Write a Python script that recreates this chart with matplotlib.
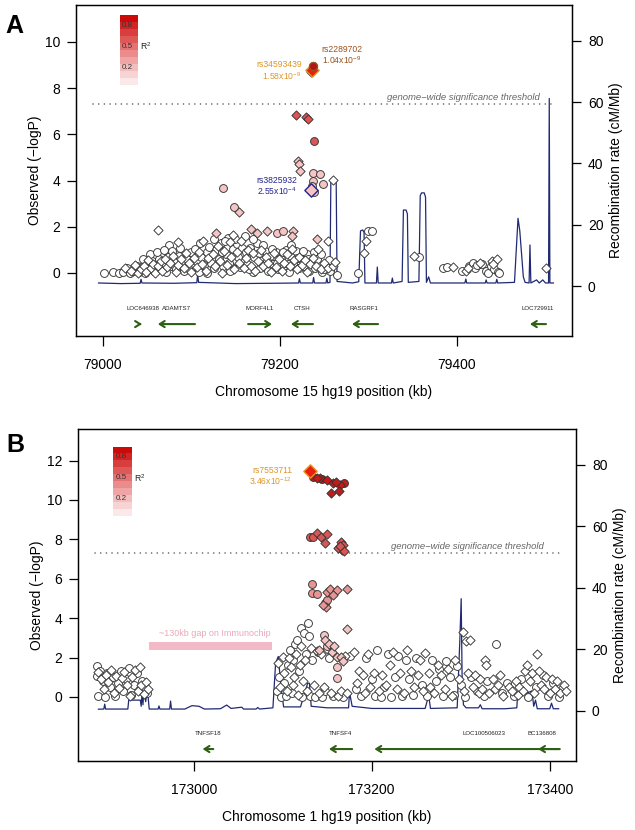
import matplotlib
matplotlib.use('Agg')
import matplotlib.pyplot as plt
import matplotlib.transforms as mtransforms
from matplotlib.patches import Rectangle

plt.rcParams['font.family'] = ['Liberation Sans', 'DejaVu Sans']
plt.rcParams['mathtext.default'] = 'regular'

# ---------------- panel A : chr15 ----------------
a_white_o = [(79001, 0.0), (79011, 0.05), (79018, 0.0), (79023, 0.05), (79027, 0.2), (79030, 0.0), (79034, 0.1),
             (79038, 0.3), (79041, 0.05), (79044, 0.25), (79047, 0.0), (79050, 0.4), (79052, 0.15), (79055, 0.5),
             (79058, 0.1), (79060, 0.35), (79063, 0.6), (79066, 0.2), (79068, 0.45), (79071, 0.05), (79073, 0.7),
             (79075, 1.2), (79077, 0.3), (79080, 0.55), (79083, 0.15), (79086, 0.75), (79089, 0.4), (79092, 0.1),
             (79095, 0.6), (79099, 0.92), (79102, 0.3), (79105, 0.5), (79108, 0.05), (79111, 0.7), (79114, 0.35),
             (79117, 0.9), (79120, 1.14), (79122, 0.45), (79125, 0.2), (79128, 1.0), (79131, 0.6), (79133, 1.3),
             (79136, 0.3), (79139, 0.8), (79141, 1.5), (79144, 0.1), (79147, 1.05), (79150, 0.5), (79152, 1.25),
             (79155, 0.25), (79158, 0.85), (79160, 1.6), (79163, 0.4), (79166, 1.1), (79169, 0.05), (79171, 0.7),
             (79174, 1.3), (79177, 0.2), (79180, 0.55), (79183, 0.95), (79186, 0.1), (79189, 0.75), (79192, 0.4),
             (79195, 0.9), (79198, 0.15), (79201, 0.6), (79204, 0.3), (79207, 1.0), (79210, 0.05), (79212, 0.75),
             (79215, 0.4), (79218, 0.95), (79221, 0.2), (79224, 0.6), (79227, 0.3), (79230, 0.8), (79233, 0.1),
             (79236, 0.5), (79240, 0.2), (79244, 0.35), (79248, 0.05), (79252, 0.25), (79257, 0.1), (79264, -0.1),
             (79045, 0.6), (79053, 0.8), (79061, 0.9), (79069, 1.0), (79078, 0.95), (79087, 1.1), (79096, 0.2),
             (79104, 1.05), (79110, 1.3), (79118, 0.0), (79126, 1.45), (79134, 0.9), (79138, 1.4), (79142, 0.45),
             (79149, 1.45), (79153, 0.7), (79157, 1.1), (79162, 0.9), (79165, 0.15), (79170, 1.45), (79176, 0.85),
             (79181, 1.2), (79185, 0.5), (79191, 1.05), (79197, 0.45), (79203, 0.9), (79209, 0.4), (79213, 1.2),
             (79219, 0.65), (79226, 0.95), (79232, 0.6), (79238, 0.9), (79242, 0.6), (79246, 0.8), (79250, 0.15),
             (79255, 0.55), (79288.5, 0.0), (79300, 1.82), (79304, 1.82), (79357, 0.71), (79384, 0.2), (79389, 0.25),
             (79406, 0.1), (79414, 0.3), (79418, 0.45), (79420, 0.2), (79423, 0.35), (79428, 0.4), (79433, 0.1),
             (79435, 0.0), (79438, 0.3), (79442, 0.15), (79446, 0.05), (79448, 0.0)]
a_white_d = [(79025, 0.2), (79032, 0.1), (79036, 0.35), (79040, 0.0), (79043, 0.15), (79046, 0.3), (79049, 0.05),
             (79051, 0.55), (79054, 0.2), (79057, 0.4), (79059, 0.0), (79062, 1.86), (79062, 0.3), (79065, 0.5),
             (79067, 0.1), (79070, 0.6), (79072, 0.25), (79076, 0.45), (79079, 0.75), (79082, 0.05), (79085, 1.36),
             (79085, 0.35), (79088, 0.6), (79091, 0.2), (79094, 0.85), (79097, 0.45), (79100, 0.05), (79103, 0.65),
             (79106, 0.25), (79109, 0.9), (79112, 0.4), (79113, 1.39), (79116, 0.1), (79119, 0.65), (79124, 0.8),
             (79127, 0.3), (79130, 1.15), (79132, 0.5), (79135, 0.0), (79137, 0.95), (79140, 0.35), (79143, 1.35),
             (79145, 0.7), (79147, 1.64), (79148, 0.15), (79151, 0.9), (79154, 0.45), (79156, 1.4), (79159, 0.2),
             (79162, 0.65), (79164, 1.0), (79167, 0.3), (79170, 0.85), (79172, 0.1), (79175, 0.5), (79178, 1.0),
             (79181, 0.3), (79184, 0.7), (79187, 0.45), (79190, 0.05), (79193, 0.85), (79196, 0.25), (79199, 0.6),
             (79202, 0.1), (79205, 0.45), (79208, 0.8), (79211, 0.3), (79214, 1.05), (79216, 0.55), (79219, 0.15),
             (79222, 0.7), (79225, 0.35), (79228, 0.55), (79231, 0.05), (79234, 0.4), (79237, 0.65), (79241, 0.3),
             (79243, 1.05), (79246, 0.15), (79250, 0.45), (79254, 0.2), (79254.6, 1.38), (79259.6, 4.03),
             (79260, 0.3), (79262, 0.49), (79295, 0.88), (79297, 1.4), (79352, 0.74), (79395, 0.25), (79410, 0.1),
             (79412, 0.2), (79426, 0.45), (79440, 0.5), (79445, 0.61), (79441, 0.4), (79501, 0.2)]
a_pink_o = [(79136, 3.67), (79148.4, 2.87), (79237, 4.32), (79245, 4.28), (79248.2, 3.85), (79237.5, 4.0),
            (79236, 3.77), (79239, 3.52), (79196.3, 1.74), (79203, 1.83)]
a_pink_d = [(79154, 2.65), (79127.7, 1.75), (79166.9, 1.89), (79173.7, 1.72), (79185, 1.83), (79215, 1.83),
            (79214, 1.62), (79242, 1.47), (79220.5, 4.85), (79222, 4.7), (79222.5, 4.4)]
a_mid_o = []
a_mid_d = []
a_red_o = [(79238.4, 5.73)]
a_red_d = [(79218.1, 6.84), (79229, 6.77), (79231.3, 6.67)]
a_dark_o = [(79237, 8.98)]
a_dark_d = [(79235, 8.68)]

a_recomb = [(78995, 1.0), (79020, 0.8), (79042, 0.9), (79043, 2.2), (79044, 1.0), (79080, 0.9), (79106, 1.1),
            (79107, 3.8), (79108, 1.2), (79150, 0.8), (79190, 0.9), (79221, 1.0), (79222, 2.4), (79223, 1.0),
            (79237, 1.0), (79238, 2.8), (79239, 1.0), (79252, 1.0), (79253, 2.5), (79254, 1.0), (79256.5, 1.2),
            (79257.5, 34.6), (79263.5, 34.6), (79264.5, 1.5), (79282, 1.0), (79289, 1.4), (79291, 18.0),
            (79293.5, 18.3), (79295, 17.5), (79296, 1.0), (79309, 1.0), (79310, 6.2), (79311, 1.0), (79326, 1.0),
            (79327, 2.6), (79328, 1.0), (79338, 1.5), (79339.5, 24.8), (79342.5, 24.8), (79344, 23.5),
            (79345, 1.2), (79357, 1.5), (79358.5, 29.5), (79360, 30.4), (79363, 30.4), (79364.5, 29.0),
            (79365.5, 1.2), (79368, 3.0), (79370, 1.0), (79409, 1.0), (79410, 2.3), (79411, 1.0), (79432, 1.0),
            (79433, 2.0), (79434, 1.0), (79444, 1.0), (79445, 2.2), (79446, 1.0), (79465, 1.2), (79469, 22.1),
            (79471, 18.0), (79475, 3.0), (79477, 1.2), (79481.5, 1.0), (79482.5, 13.4), (79483.5, 1.0),
            (79490, 2.0), (79493, 1.0), (79497, 2.0), (79500, 1.0), (79503.5, 1.0), (79504.3, 61.2),
            (79505, 1.0), (79509, 1.0)]

a_genes = ['LOC646938', 'ADAMTS7', 'MORF4L1', 'CTSH', 'RASGRF1', 'LOC729911']
a_gene_start = [79041, 79062, 79164, 79212.4, 79281.4, 79482.5]
a_gene_end = [79044, 79104, 79191, 79237.3, 79310.8, 79500.6]
a_gene_strand = ['+', '-', '+', '-', '-', '-']
a_gene_label_x = [79045, 79083, 79177, 79225, 79295, 79491.5]

a_snps = [('rs34593439', '1.58x10$^{-9}$', 79235.8, 8.80),
          ('rs2289702', '1.04x10$^{-9}$', 79237, 8.98),
          ('rs3825932', '2.55x10$^{-4}$', 79234.7, 3.59)]

# ---------------- panel B : chr1 ----------------
b_white_o = [(172891, 1.55), (172891, 1.05), (172892, 0.05), (172895, 1.3), (172898, 0.8), (172900, 0.0),
             (172903, 1.2), (172906, 0.5), (172909, 1.0), (172912, 0.05), (172915, 0.7), (172918, 1.3),
             (172921, 0.3), (172924, 0.9), (172927, 1.45), (172930, 0.1), (172933, 0.6), (172936, 1.2),
             (172939, 0.35), (172942, 0.8), (172945, 0.45), (172947, 0.2),
             (173094, 0.3), (173096, 1.0), (173098, 0.0), (173101, 0.7), (173104, 0.05), (173106, 1.6),
             (173108, 2.4), (173110, 0.2), (173112, 1.9), (173114, 2.7), (173116, 2.9), (173118, 1.3),
             (173120, 3.49), (173122, 0.0), (173124, 3.26), (173126, 2.2), (173128, 3.74), (173129, 3.1),
             (173131, 0.05), (173133, 1.9), (173136, 0.0), (173140, 2.3), (173144, 0.0), (173148, 0.3),
             (173152, 2.0), (173156, 0.05), (173168, 0.0), (173176, 2.1), (173182, 0.4),
             (173188, 0.05), (173194, 2.0), (173200, 0.9), (173204, 0.05), (173206, 2.4), (173210, 0.0),
             (173214, 0.5), (173218, 2.2), (173222, 0.0), (173226, 1.0), (173230, 2.1), (173234, 0.05),
             (173238, 1.9), (173242, 0.9), (173246, 0.1), (173250, 2.0), (173256, 0.6), (173262, 0.05),
             (173268, 1.9), (173272, 0.8), (173276, 1.4), (173280, 0.05), (173284, 1.8), (173288, 1.0),
             (173292, 0.1), (173296, 1.55), (173300, 0.6), (173305, 0.0), (173312, 1.0), (173318, 0.3),
             (173326, 0.05), (173330, 0.8), (173340, 2.67), (173346, 0.2), (173352, 0.7), (173360, 0.05),
             (173368, 0.9), (173376, 0.0), (173384, 0.5), (173392, 1.1), (173398, 0.05), (173404, 0.7),
             (173410, 0.0), (173414, 0.4)]
b_white_d = [(172893, 1.25), (172896, 0.9), (172899, 0.4), (172901, 1.1), (172904, 0.75), (172907, 1.35),
             (172910, 0.2), (172913, 1.05), (172916, 0.45), (172919, 0.95), (172922, 1.25), (172925, 0.6),
             (172928, 0.05), (172931, 1.0), (172934, 1.35), (172937, 0.3), (172940, 1.5), (172941, 0.6),
             (172944, 0.15), (172946, 0.75), (172949, 0.4),
             (173095, 1.7), (173097, 0.5), (173100, 2.05), (173102, 1.2), (173105, 0.3), (173107, 2.0),
             (173109, 1.5), (173111, 0.6), (173113, 1.0), (173115, 2.2), (173117, 0.1), (173119, 1.6),
             (173121, 2.6), (173123, 0.8), (173125, 1.9), (173127, 0.3), (173132, 2.5), (173135, 0.6),
             (173138, 2.35), (173141, 0.2), (173143, 2.2), (173146, 0.5), (173150, 2.45), (173154, 0.2),
             (173162, 0.05), (173165, 0.3), (173170, 2.1), (173172, 0.2),
             (173180, 2.3), (173184, 0.7), (173186, 1.3), (173190, 1.1), (173192, 0.2),
             (173196, 2.2), (173198, 0.5), (173202, 1.2), (173208, 0.3), (173212, 1.1), (173216, 0.6),
             (173220, 1.6), (173224, 2.3), (173228, 0.4), (173232, 1.2), (173236, 0.2), (173240, 2.4),
             (173244, 1.3), (173248, 0.5), (173252, 1.1), (173254, 1.9), (173258, 0.3), (173260, 2.25),
             (173264, 1.2), (173266, 0.5), (173270, 0.2), (173274, 1.6), (173278, 1.1), (173282, 0.4),
             (173286, 1.4), (173290, 0.05), (173294, 1.9), (173298, 0.9), (173302, 3.3), (173304, 0.3),
             (173306, 2.85), (173308, 1.2), (173310, 2.9), (173314, 0.5), (173316, 1.1), (173320, 0.2),
             (173322, 0.9), (173324, 0.4), (173327, 1.9), (173328, 1.6), (173332, 0.2), (173336, 0.9),
             (173338, 0.4), (173342, 0.6), (173344, 1.1), (173348, 0.05), (173354, 0.5), (173358, 0.3),
             (173362, 0.8), (173364, 0.1), (173366, 0.5), (173370, 0.3), (173372, 1.3), (173374, 1.6),
             (173378, 0.8), (173380, 1.2), (173382, 0.2), (173386, 2.2), (173388, 1.3), (173390, 0.6),
             (173394, 0.4), (173396, 1.0), (173400, 0.2), (173402, 0.9), (173406, 0.4), (173408, 0.8),
             (173412, 0.2), (173416, 0.6), (173418, 0.3)]
b_pink_o = [(173146.7, 3.15), (173160.7, 1.54), (173160.7, 0.95), (173150, 2.6)]
b_pink_d = [(173148, 2.9), (173152, 2.7), (173141, 2.4), (173155, 2.3), (173158, 2.6), (173160.7, 2.05),
            (173166, 2.05), (173172, 3.45), (173168, 1.8)]
b_mid_o = [(173132.6, 5.74), (173132.6, 5.26), (173139, 5.23), (173147.5, 4.76), (173150, 4.9)]
b_mid_d = [(173149.4, 5.35), (173153, 5.5), (173160.7, 5.43), (173172, 5.47), (173156, 5.2), (173148.5, 4.58),
           (173145, 4.65)]
b_red_o = [(173130.7, 8.14), (173134.4, 8.12)]
b_red_d = [(173138, 8.32), (173143, 8.1), (173149.4, 8.25), (173147.5, 7.8), (173165, 7.88), (173167.6, 7.71),
           (173166.2, 7.46), (173162.5, 7.56), (173169, 7.41), (173164, 7.65)]
b_dark_o = [(173134.4, 11.17), (173169, 10.88), (173144, 11.05)]
b_dark_d = [(173142, 11.12), (173149.4, 11.0), (173156.5, 10.86), (173164, 10.76), (173154, 10.37),
            (173163.6, 10.47), (173138, 11.1), (173160, 10.9)]

b_recomb = [(172893, 0.55), (172899, 0.6), (172900, 2.2), (172901, 0.6), (172926, 0.6), (172927, 3.5),
            (172940, 3.5), (172941, 1.5), (172942, 6.0), (172943, 2.0), (172944, 6.8), (172945, 6.0),
            (172946, 3.0), (172948, 7.0), (172950, 0.6), (172960, 0.6), (172961, 1.6), (172962, 0.6),
            (172973, 0.6), (172974, 3.2), (172975, 0.6), (172990, 0.6), (172998, 1.7), (173006, 1.5),
            (173012, 0.6), (173030, 0.7), (173037, 1.9), (173042, 0.8), (173054, 1.2), (173056, 0.6),
            (173070, 0.6), (173072, 1.1), (173074, 0.6), (173089, 1.0), (173092, 15.5), (173095, 17.7),
            (173098, 8.0), (173101, 1.3), (173110, 1.3), (173120, 1.3), (173128, 9.0), (173130, 9.0),
            (173132, 1.5), (173150, 1.0), (173174, 1.0), (173175, 6.2), (173178, 1.5), (173200, 0.8),
            (173230, 0.8), (173260, 0.8), (173264, 5.0), (173266, 0.8), (173296, 1.0), (173299, 23.0),
            (173300.5, 36.5), (173301.5, 12.0), (173303, 2.0), (173306, 1.0), (173320, 1.0), (173322, 2.0),
            (173324, 0.7), (173350, 0.7), (173363, 1.0), (173364, 6.0), (173372, 5.5), (173380, 6.5),
            (173382, 1.5), (173384, 3.5), (173386, 0.7), (173400, 0.7), (173402, 2.5), (173404, 0.7),
            (173410, 0.7)]

b_genes = ['TNFSF18', 'TNFSF4', 'LOC100506023', 'BC136808']
b_gene_start = [173010, 173152, 173203, 173387]
b_gene_end = [173022, 173178, 173411, 173411]
b_gene_strand = ['-', '-', '-', '-']
b_gene_label_x = [173016, 173165, 173326, 173391]

b_snps = [('rs7553711', '3.46x10$^{-12}$', 173130.7, 11.46)]
b_gap = (172950, 173087.5)

# ---------------- styles ----------------
SHADES = ['#FFFFFF', '#F5C4C4', '#E99494', '#DA5656', '#C41A1A']
LEGEND_BANDS = ['#FBE8E8', '#F8D3D3', '#F4BDBD', '#EFA5A5', '#EA8C8C', '#E47272', '#DE5858',
                '#D83E3E', '#D22424', '#CC0A0A']
EDGE = '#333333'
NAVY = '#202a72'
GREEN = '#2f5f12'
SNP_COLORS = {'rs34593439': '#DE9628', 'rs2289702': '#9A5220', 'rs3825932': '#24248E', 'rs7553711': '#DE9628'}


def unzip(pairs):
    return [p[0] for p in pairs], [p[1] for p in pairs]


def scatter(ax, pairs, marker, color, size):
    if not pairs:
        return
    x, y = unzip(pairs)
    ax.scatter(x, y, s=size, marker=marker, facecolor=color, edgecolor=EDGE, linewidth=0.65, zorder=3)


def draw_panel(ax, groups, recomb, genes, starts, ends, strands, label_x, xlim, ylim, yticks, xticks,
               chrom_label, legend_box, snps, text_specs):
    ax2 = ax.twinx()
    ax.set_zorder(ax2.get_zorder() + 1)
    ax.patch.set_visible(False)

    rx, ry = unzip(recomb)
    ax2.plot(rx, ry, color=NAVY, lw=0.9)
    ax2.set_ylim(-16.3, 91.7)
    ax2.set_yticks([0, 20, 40, 60, 80])
    ax2.set_ylabel('Recombination rate (cM/Mb)', fontsize=10, labelpad=4)

    for level, (circ, diam) in enumerate(groups):
        scatter(ax, circ, 'o', SHADES[level], 32)
        scatter(ax, diam, 'D', SHADES[level], 22)

    # highlighted SNPs
    for name, pval, x, y in snps:
        if name == 'rs34593439' or name == 'rs7553711':
            ax.scatter([x], [y], s=46, marker='D', facecolor='#E8200C', edgecolor=SNP_COLORS[name],
                       linewidth=1.0, zorder=5)
        elif name == 'rs3825932':
            ax.scatter([x], [y], s=46, marker='D', facecolor='#F5C4C4', edgecolor=SNP_COLORS[name],
                       linewidth=1.0, zorder=5)
        else:
            ax.scatter([x], [y], s=34, marker='o', facecolor='#B81414', edgecolor=SNP_COLORS[name],
                       linewidth=0.9, zorder=5)

    for name, pval, tx, ty, ha in text_specs:
        ax.text(tx, ty, name + '\n' + pval, color=SNP_COLORS[name], fontsize=6.2, ha=ha, va='center',
                linespacing=1.05, zorder=6)

    # genome-wide threshold
    ax.plot([xlim[0] + 0.035 * (xlim[1] - xlim[0]), xlim[0] + 0.965 * (xlim[1] - xlim[0])], [7.3, 7.3],
            color='#555555', lw=1.1, ls=(0, (0.1, 3.6)), dash_capstyle='round', zorder=2)
    ax.text(xlim[0] + 0.935 * (xlim[1] - xlim[0]), 7.42, 'genome\u2212wide significance threshold',
            fontsize=6.8, style='italic', color='#666666', ha='right', va='bottom', zorder=2)

    # genes
    tr = mtransforms.blended_transform_factory(ax.transData, ax.transAxes)
    for name, s, e, st, lx in zip(genes, starts, ends, strands, label_x):
        if st == '+':
            tail, head = s, e
        else:
            tail, head = e, s
        ax.annotate('', xy=(head, 0.036), xytext=(tail, 0.036), xycoords=tr, textcoords=tr,
                    arrowprops=dict(arrowstyle='->,head_length=0.35,head_width=0.22', color=GREEN, lw=1.5,
                                    shrinkA=0, shrinkB=0))
        ax.text(lx, 0.082, name, transform=tr, fontsize=4.4, ha='center', va='center', color='#222222')

    # r2 legend
    lx0, lw, ly0, ly1 = legend_box
    step = (ly1 - ly0) / len(LEGEND_BANDS)
    for i, c in enumerate(LEGEND_BANDS):
        ax.add_patch(Rectangle((lx0, ly0 + i * step), lw, step, facecolor=c, edgecolor='none', zorder=4))
    for val in [0.2, 0.5, 0.8]:
        ax.text(lx0 + 0.12 * lw, ly0 + (ly1 - ly0) * (val + 0.05), '%.1f' % val, fontsize=5.8, ha='left',
                va='center', color='#333333', zorder=5)
    ax.text(lx0 + 1.12 * lw, ly0 + (ly1 - ly0) * 0.55, 'R$^2$', fontsize=6.2, ha='left', va='center',
            color='#222222', zorder=5)

    ax.set_xlim(*xlim)
    ax.set_ylim(*ylim)
    ax.set_yticks(yticks)
    ax.set_xticks(xticks)
    ax.set_ylabel('Observed (\u2212logP)', fontsize=10, labelpad=2)
    ax.set_xlabel(chrom_label, fontsize=10, labelpad=9)
    for a in (ax, ax2):
        a.tick_params(direction='out', length=6.5, width=0.9, labelsize=10, pad=5)
        for sp in a.spines.values():
            sp.set_linewidth(0.9)
    ax.tick_params(axis='x', length=7, pad=9)
    return ax2


fig = plt.figure(figsize=(6.35, 8.3), dpi=100)

ax_a = fig.add_axes([76 / 635, 1 - 336 / 830, 496 / 635, 331 / 830])
draw_panel(ax_a,
           [(a_white_o, a_white_d), (a_pink_o, a_pink_d), (a_mid_o, a_mid_d), (a_red_o, a_red_d),
            (a_dark_o, a_dark_d)],
           a_recomb, a_genes, a_gene_start, a_gene_end, a_gene_strand, a_gene_label_x,
           (78969.5, 79530), (-2.73, 11.6), [0, 2, 4, 6, 8, 10], [79000, 79200, 79400],
           'Chromosome 15 hg19 position (kb)', (79019.2, 20.3, 8.14, 11.17), a_snps,
           [('rs34593439', '1.58x10$^{-9}$', 79224.7, 8.74, 'right'),
            ('rs2289702', '1.04x10$^{-9}$', 79247.2, 9.42, 'left'),
            ('rs3825932', '2.55x10$^{-4}$', 79219.2, 3.74, 'right')])

ax_b = fig.add_axes([78 / 635, 1 - 761 / 830, 498 / 635, 332 / 830])
draw_panel(ax_b,
           [(b_white_o, b_white_d), (b_pink_o, b_pink_d), (b_mid_o, b_mid_d), (b_red_o, b_red_d),
            (b_dark_o, b_dark_d)],
           b_recomb, b_genes, b_gene_start, b_gene_end, b_gene_strand, b_gene_label_x,
           (172870, 173429.5), (-3.25, 13.6), [0, 2, 4, 6, 8, 10, 12], [173000, 173200, 173400],
           'Chromosome 1 hg19 position (kb)', (172909.3, 21.3, 9.2, 12.71), b_snps,
           [('rs7553711', '3.46x10$^{-12}$', 173110.5, 11.17, 'right')])

# immunochip gap marker
ax_b.add_patch(Rectangle((b_gap[0], 2.39), b_gap[1] - b_gap[0], 0.41, facecolor='#F3B9C6', edgecolor='none',
                         zorder=2))
ax_b.text((b_gap[0] + b_gap[1]) / 2 + 5, 3.2, '~130kb gap on Immunochip', fontsize=6.5, color='#EBA8B8',
          ha='center', va='center')

fig.text(5 / 635, 1 - 33 / 830, 'A', fontsize=18, fontweight='bold', va='baseline')
fig.text(6 / 635, 1 - 452 / 830, 'B', fontsize=18, fontweight='bold', va='baseline')

fig.savefig('out.png', dpi=100)
